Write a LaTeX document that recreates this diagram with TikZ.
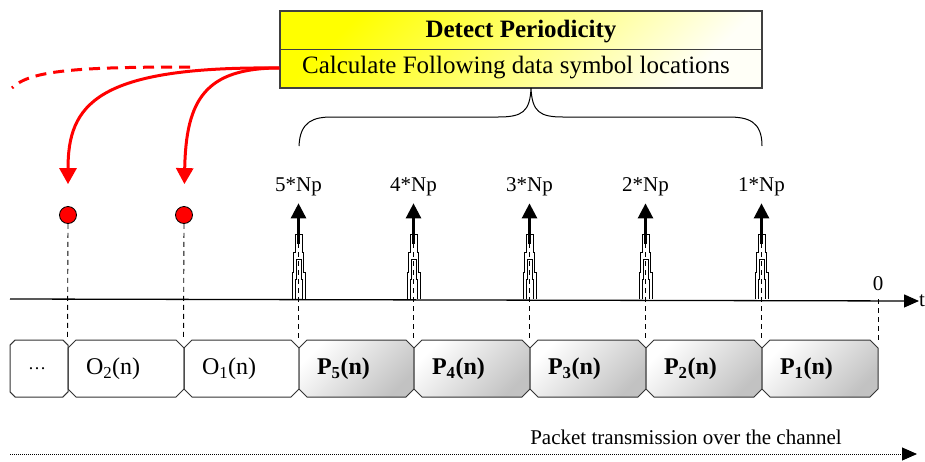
\documentclass[tikz,border=0pt]{standalone}
\usepackage{fontspec}
\setmainfont{Liberation Serif}
\usetikzlibrary{arrows.meta,shapes.misc}

\tikzset{
  detectbox/.style={draw=black!75, line width=1.2pt, minimum width=482pt, minimum height=77pt,
    inner sep=0pt, left color=yellow, right color=yellow!3, shading angle=45},
  slot/.style={chamfered rectangle, chamfered rectangle xsep=4pt, chamfered rectangle ysep=4pt,
    draw=black!80, line width=1pt, minimum width=#1, minimum height=57pt, inner sep=0pt,
    text width=#1-36pt, align=left, font=\fontsize{24}{28}\selectfont},
  pslot/.style={slot=#1, left color=white, right color=black!24, shading angle=45},
  marker/.style={circle, draw, line width=0.8pt, fill=red, minimum size=17pt, inner sep=0pt},
  redarrow/.style={red, line width=3pt, -{Triangle[length=16pt,width=17pt]}},
  reddash/.style={red, line width=3pt, dash pattern=on 11pt off 7pt},
  guide/.style={line width=0.9pt, dash pattern=on 5pt off 4pt},
  tipline/.style={line width=2.6pt, -{Triangle[length=15pt,width=15pt]}},
  pulseline/.style={line width=0.9pt},
}

\begin{document}
\begin{tikzpicture}[x=1pt, y=-1pt, font=\fontsize{21}{25}\selectfont]
    \useasboundingbox (0,0) rectangle (925,461);

    % detect periodicity box
    \node[detectbox] (detect) at (521,49.5) {};
    \draw[line width=1.2pt, black!75] ([yshift=-39pt]detect.north west) -- ([yshift=-39pt]detect.north east);
    \node[font=\fontsize{25}{30}\selectfont\bfseries] (title) at (521,32) {Detect Periodicity};
    \node[font=\fontsize{25}{30}\selectfont] (calc) at (516,68) {Calculate Following data symbol locations};

    % brace under the box
    \coordinate (bracetip) at (531,88);
    \draw[line width=1pt] (299,146) .. controls (300,121) and (314,117) .. (332,117) -- (498,117)
        .. controls (522,117) and (530,112) .. (bracetip)
        .. controls (532,112) and (540,117) .. (563,117) -- (728,117)
        .. controls (748,117) and (762,121) .. (762,146);

    % packet slots
    \node[slot=58pt] (dots) at (39,368.5) {\fontsize{18}{20}\selectfont\dots};
    \node[slot=116pt] (o2) at (126,368.5) {O\textsubscript{2}(n)};
    \node[slot=115pt] (o1) at (241.5,368.5) {O\textsubscript{1}(n)};
    \node[pslot=115pt] (p5) at (356.5,368.5) {\textbf{P\textsubscript{5}(n)}};
    \node[pslot=116pt] (p4) at (472,368.5) {\textbf{P\textsubscript{4}(n)}};
    \node[pslot=116pt] (p3) at (588,368.5) {\textbf{P\textsubscript{3}(n)}};
    \node[pslot=116pt] (p2) at (704,368.5) {\textbf{P\textsubscript{2}(n)}};
    \node[pslot=116pt] (p1) at (820,368.5) {\textbf{P\textsubscript{1}(n)}};

    % time axis
    \coordinate (axstart) at (10,299);
    \node[anchor=west, inner sep=0pt] (t) at (919,301) {t};
    \draw[line width=1.3pt, -{Triangle[length=15pt,width=13pt]}] (axstart) -- (t.west);
    \node (zero) at (878,284) {0};
    \draw[guide] (p1.east |- axstart) -- (p1.east |- p1.north);

    % periodic pulses
    \foreach \k in {1,...,5} {
        \coordinate (base\k) at (p\k.west |- axstart);
        \node[inner sep=1pt] (np\k) at ([yshift=112pt]base\k) {\k*Np};
        \begin{scope}[shift={(base\k)}]
            \draw[pulseline] (-6.5,0) -- (-6.5,-27) -- (-5,-27) -- (-5,-47) -- (-3.5,-47) -- (-3.5,-65)
                -- (3.5,-65) -- (3.5,-47) -- (5,-47) -- (5,-27) -- (6.5,-27) -- (6.5,0);
            \draw[pulseline] (-3.5,0) -- (-3.5,-20) -- (-2.5,-20) -- (-2.5,-40) -- (2.5,-40)
                -- (2.5,-20) -- (3.5,-20) -- (3.5,0);
        \end{scope}
        \draw[guide] ([yshift=65pt]base\k) -- (p\k.west |- p\k.north);
        \draw[tipline, shorten >=6pt] ([yshift=55pt]base\k) -- (np\k.south);
    }

    % detected markers
    \node[marker] (mark2) at (68,215) {};
    \node[marker] (mark1) at (184,215) {};
    \draw[guide] (mark2.south) -- (o2.west |- o2.north);
    \draw[guide] (mark1.south) -- (o1.west |- o1.north);

    % red arrows back from the box
    \coordinate (redstart) at (detect.west |- calc);
    \coordinate (join) at (190,67);
    \coordinate (loose) at (12,88);
    \draw[redarrow, shorten >=22pt] (redstart) .. controls (95,66) and (68,105) .. (mark2.north);
    \draw[redarrow, shorten >=22pt] (redstart) .. controls (205,68) and (186,100) .. (mark1.north);
    \draw[reddash] (join) .. controls (80,67) and (30,70) .. (loose);

    % transmission direction
    \node (packet) at (686,437) {Packet transmission over the channel};
    \coordinate (feed) at (10,454);
    \coordinate (feedend) at (917,454);
    \draw[line width=1pt, dash pattern=on 1pt off 1pt, -{Triangle[length=15pt,width=13pt]}] (feed) -- (feedend);
\end{tikzpicture}
\end{document}
